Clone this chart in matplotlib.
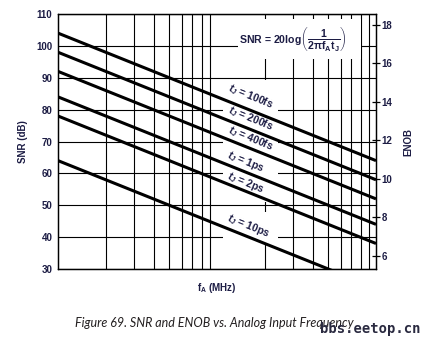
import matplotlib
matplotlib.use("Agg")
import matplotlib.pyplot as plt
from matplotlib.ticker import FixedLocator, NullFormatter, NullLocator
from matplotlib.patches import Rectangle

# jitter-limited SNR lines, read at both ends of the frequency span
freq_ends = [10, 1000]                        # MHz
jitter_labels = ["100fs", "200fs", "400fs", "1ps", "2ps", "10ps"]
snr_at_10mhz = [104, 98, 92, 84, 78, 64]      # dB
snr_at_1ghz = [64, 58, 52, 44, 38, 24]        # dB

x_ticks = [10, 100, 1000]
x_ticklabels = ["10", "100", "1k"]
snr_ticks = [30, 40, 50, 60, 70, 80, 90, 100, 110]
enob_ticks = [6, 8, 10, 12, 14, 16, 18]

NAVY = "#1c1c44"

plt.rcParams["font.family"] = ["Liberation Sans", "DejaVu Sans"]
plt.rcParams["font.weight"] = "bold"
plt.rcParams["axes.labelweight"] = "bold"
plt.rcParams["mathtext.fontset"] = "custom"
plt.rcParams["mathtext.rm"] = "Liberation Sans:bold"
plt.rcParams["mathtext.bf"] = "Liberation Sans:bold"
plt.rcParams["mathtext.it"] = "Liberation Sans:bold:italic"
plt.rcParams["mathtext.default"] = "rm"

fig = plt.figure(figsize=(4.23, 3.39), dpi=100)
ax = fig.add_axes([58 / 423, 70 / 339, 318 / 423, 255 / 339])

ax.set_xscale("log")
ax.set_xlim(10, 1000)
ax.set_ylim(30, 110)

# grid on every decade subdivision and every 10 dB
ax.set_axisbelow(True)
ax.xaxis.set_major_locator(FixedLocator(x_ticks))
ax.xaxis.set_minor_locator(FixedLocator([m * d for d in (10, 100) for m in range(2, 10)]))
ax.xaxis.set_minor_formatter(NullFormatter())
ax.set_xticklabels(x_ticklabels)
ax.set_yticks(snr_ticks)
ax.grid(True, which="both", color="black", lw=0.8)
ax.tick_params(axis="both", which="both", length=0, labelsize=7, labelcolor=NAVY)
ax.tick_params(axis="x", pad=6)
ax.tick_params(axis="y", pad=4)
for s in ax.spines.values():
    s.set_linewidth(0.9)

# white panels that keep the annotations clear of the grid
for (x0, x1, y0, y1) in [(135.5, 805, 95.9, 108.4),
                         (109, 242, 51.0, 89.3),
                         (109, 242, 38.2, 47.9)]:
    ax.add_patch(Rectangle((x0, y0), x1 - x0, y1 - y0, facecolor="white",
                           edgecolor="none", zorder=1))

for lo, hi in zip(snr_at_10mhz, snr_at_1ghz):
    ax.plot(freq_ends, [lo, hi], color="black", lw=2.2, zorder=2,
            solid_capstyle="butt")

label_pos = [(163, 84.0), (163, 77.1), (163, 70.8),
             (152, 63.6), (152, 57.0), (157, 43.5)]
for lab, (fx, sy) in zip(jitter_labels, label_pos):
    ax.text(fx, sy, r"$\mathit{t_J}$ = " + lab, rotation=-22,
            rotation_mode="anchor", ha="center", va="center",
            fontsize=7.5, weight="bold", color=NAVY, zorder=3)

ax.text(300, 102.3,
        r"SNR = 20log$\left(\dfrac{1}{2\pi f_A t_J}\right)$",
        ha="center", va="center", fontsize=7.6, weight="bold", color=NAVY,
        zorder=3)

ax.set_ylabel("SNR (dB)", fontsize=7, weight="bold", color=NAVY, labelpad=6)
ax.set_xlabel(r"$f_A$ (MHz)", fontsize=7, weight="bold", color=NAVY, labelpad=5)

# ENOB scale on the right
ax2 = ax.twinx()
ax2.set_ylim(5.325, 18.57)
ax2.set_yticks(enob_ticks)
ax2.xaxis.set_major_locator(NullLocator())
ax2.tick_params(axis="y", direction="inout", length=6, width=0.9,
                labelsize=7, labelcolor=NAVY, pad=1)
for s in ax2.spines.values():
    s.set_linewidth(0.9)
ax2.set_ylabel("ENOB", fontsize=7, weight="bold", color=NAVY, labelpad=8)

fig.text(75 / 423, 1 - 327 / 339,
         "Figure 69. SNR and ENOB vs. Analog Input Frequency",
         family=["Lato", "DejaVu Sans"], style="italic", weight="normal",
         fontsize=9, color="#231f20", ha="left", va="baseline")
fig.text(420 / 423, 1 - 333 / 339, "bbs.eetop.cn",
         family=["Liberation Sans Narrow", "DejaVu Sans Mono"],
         weight="bold", fontsize=10, color="#2a2a40",
         ha="right", va="baseline")

fig.savefig("out.png", dpi=100)
